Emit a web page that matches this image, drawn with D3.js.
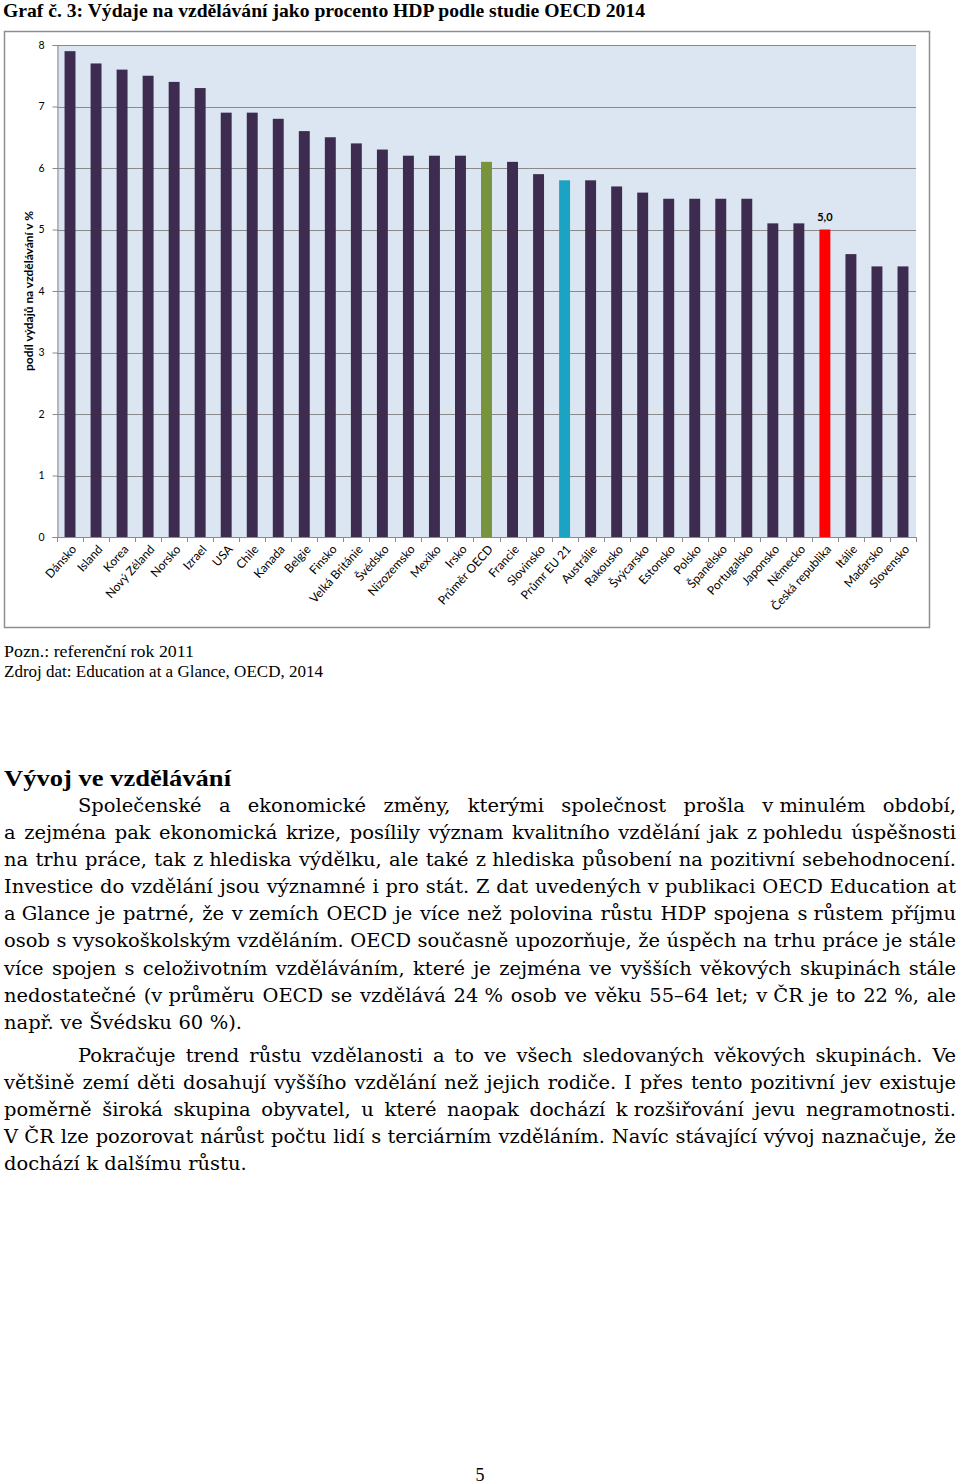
<!DOCTYPE html>
<html><head><meta charset="utf-8">
<script src="https://cdn.jsdelivr.net/npm/d3@7"></script>
<style>body{margin:0;background:#fff}svg{display:block}</style>
</head><body><svg id="c" width="960" height="1484"></svg>
<script>
// ---------- data ----------
const categories = ["Dánsko","Island","Korea","Nový Zéland","Norsko","Izrael","USA","Chile","Kanada","Belgie","Finsko","Velká Británie","Švédsko","Nizozemsko","Mexiko","Irsko","Průměr OECD","Francie","Slovinsko","Průmr EU 21","Austrálie","Rakousko","Švýcarsko","Estonsko","Polsko","Španělsko","Portugalsko","Japonsko","Německo","Česká republika","Itálie","Maďarsko","Slovensko"];
const values = [7.9,7.7,7.6,7.5,7.4,7.3,6.9,6.9,6.8,6.6,6.5,6.4,6.3,6.2,6.2,6.2,6.1,6.1,5.9,5.8,5.8,5.7,5.6,5.5,5.5,5.5,5.5,5.1,5.1,5.0,4.6,4.4,4.4];
const yTicks = [0,1,2,3,4,5,6,7,8];
const labelledCategories = ["Česká republika"];
const titleText = "Graf č. 3: Výdaje na vzdělávání jako procento HDP podle studie OECD 2014";
const yAxisTitle = "podíl výdajů na vzdělávání v %";
const noteLines = ["Pozn.: referenční rok 2011","Zdroj dat: Education at a Glance, OECD, 2014"];
const heading = "Vývoj ve vzdělávání";
const para1 = [
 "Společenské a ekonomické změny, kterými společnost prošla v\u00a0minulém období,",
 "a zejména pak ekonomická krize, posílily význam kvalitního vzdělání jak z\u00a0pohledu úspěšnosti",
 "na trhu práce, tak z\u00a0hlediska výdělku, ale také z\u00a0hlediska působení na pozitivní sebehodnocení.",
 "Investice do vzdělání jsou významné i pro stát. Z dat uvedených v\u00a0publikaci OECD Education at",
 "a\u00a0Glance je patrné, že v\u00a0zemích OECD je více než polovina růstu HDP spojena s\u00a0růstem příjmu",
 "osob s\u00a0vysokoškolským vzděláním. OECD současně upozorňuje, že úspěch na trhu práce je stále",
 "více spojen s celoživotním vzděláváním, které je zejména ve vyšších věkových skupinách stále",
 "nedostatečné (v\u00a0průměru OECD se vzdělává 24\u00a0% osob ve věku 55–64 let; v\u00a0ČR je to 22\u00a0%, ale",
 "např. ve Švédsku 60 %)."
];
const para2 = [
 "Pokračuje trend růstu vzdělanosti a to ve všech sledovaných věkových skupinách. Ve",
 "většině zemí děti dosahují vyššího vzdělání než jejich rodiče. I přes tento pozitivní jev existuje",
 "poměrně široká skupina obyvatel, u které naopak dochází k\u00a0rozšiřování jevu negramotnosti.",
 "V\u00a0ČR lze pozorovat nárůst počtu lidí s\u00a0terciárním vzděláním. Navíc stávající vývoj naznačuje, že",
 "dochází k\u00a0dalšímu růstu."
];
const pageNumber = "5";

// ---------- styles ----------
const colorFor = c => c === "Průměr OECD" ? "#77933c" : c === "Průmr EU 21" ? "#1ca2c2" : c === "Česká republika" ? "#ff0000" : "#3e2c50";
const serif = "'Liberation Serif', 'DejaVu Serif', serif";
const bodyFont = "'DejaVu Serif Condensed', 'DejaVu Serif', serif";
const sans = "Lato, 'Open Sans', sans-serif";

const svg = d3.select("#c");

// title
svg.append("text").attr("x",3).attr("y",17)
  .style("font-family",serif).style("font-weight","bold").style("font-size","19px").text(titleText)
  .attr("textLength",642).attr("lengthAdjust","spacingAndGlyphs");

// chart frame
svg.append("rect").attr("x",4.5).attr("y",31.5).attr("width",925).attr("height",596)
  .attr("fill","#fff").attr("stroke","#8e8e8e").attr("stroke-width",1.5);

const x = d3.scaleBand().domain(categories).range([57,916]).paddingInner(0.58).paddingOuter(0.29);
const y = d3.scaleLinear().domain([0,8]).range([537,45]);

// plot background
svg.append("rect").attr("x",57).attr("y",y(8)).attr("width",916-57).attr("height",y(0)-y(8)).attr("fill","#dce6f2");

// gridlines
svg.append("g").selectAll("line").data(yTicks.filter(d=>d>0)).join("line")
  .attr("x1",57).attr("x2",916).attr("y1",d=>Math.round(y(d))+0.5).attr("y2",d=>Math.round(y(d))+0.5)
  .attr("stroke","#8a8a8a").attr("stroke-width",1);

// bars
svg.append("g").selectAll("rect").data(categories).join("rect")
  .attr("x",d=>x(d)).attr("width",x.bandwidth())
  .attr("y",(d,i)=>y(values[i])).attr("height",(d,i)=>y(0)-y(values[i]))
  .attr("fill",d=>colorFor(d));

// y axis
const yAxis = svg.append("g").attr("transform","translate(57.5,0)")
  .call(d3.axisLeft(y).tickValues(yTicks).tickSize(5).tickPadding(8).tickFormat(d3.format("d")));
yAxis.select(".domain").attr("stroke","#8a8a8a");
yAxis.selectAll(".tick line").attr("stroke","#8a8a8a");
yAxis.selectAll("text").style("font-family",sans).style("font-size","10.5px").attr("fill","#000");

// x axis
svg.append("line").attr("x1",57).attr("x2",916).attr("y1",537.5).attr("y2",537.5).attr("stroke","#8a8a8a");
const bounds = d3.range(categories.length+1).map(i => 57 + i*x.step());
svg.append("g").selectAll("line").data(bounds).join("line")
  .attr("x1",d=>Math.round(d)+0.5).attr("x2",d=>Math.round(d)+0.5).attr("y1",537).attr("y2",542)
  .attr("stroke","#8a8a8a");
svg.append("g").selectAll("text").data(categories).join("text")
  .attr("transform",d=>`translate(${x(d)+x.bandwidth()/2+4},${547}) rotate(-48)`)
  .attr("text-anchor","end").attr("dy","0.35em")
  .style("font-family",sans).style("font-size","12px").text(d=>d);

// y axis title
svg.append("text").attr("transform","translate(33,291) rotate(-90)").attr("text-anchor","middle")
  .style("font-family",sans).style("font-weight","bold").style("font-size","12px").text(yAxisTitle)
  .attr("textLength",160).attr("lengthAdjust","spacingAndGlyphs");

// data label
svg.append("g").selectAll("text").data(labelledCategories).join("text")
  .attr("x",d=>x(d)+x.bandwidth()/2).attr("y",d=>y(values[categories.indexOf(d)])-9)
  .attr("text-anchor","middle").style("font-family",sans).style("font-weight","bold").style("font-size","11px")
  .text(d=>d3.format(".1f")(values[categories.indexOf(d)]).replace(".",","));

// notes
const noteWidths = [190, 319];
noteLines.forEach((t,i)=>svg.append("text").attr("x",4).attr("y",657+i*20)
  .style("font-family",serif).style("font-size","16px").text(t)
  .attr("textLength",noteWidths[i]).attr("lengthAdjust","spacingAndGlyphs"));

// heading
svg.append("text").attr("x",4).attr("y",786).style("font-family",serif).style("font-weight","bold")
  .style("font-size","24px").text(heading).attr("textLength",227).attr("lengthAdjust","spacingAndGlyphs");

// justified body text
const bodySize = 19;
const sp = bodySize*0.3;
const L = 4, R = 956, indent = 78;
function measureLine(text){
  const t = svg.append("text").style("font-family",bodyFont).style("font-size",bodySize+"px");
  const ws = text.split(" ").map(w => { t.text(w); return t.node().getComputedTextLength(); });
  t.remove();
  return ws;
}
const allLines = [];
[para1, para2].forEach(p => p.forEach((t,i)=>allLines.push({t, first:i===0, last:i===p.length-1})));
allLines.forEach(l => { l.widths = measureLine(l.t); l.x0 = l.first ? indent : L; });
// common horizontal scale so the tightest justified line fits with normal spacing
const k = d3.min(allLines.filter(l=>!l.last), l => (R - l.x0)/(d3.sum(l.widths) + sp*(l.widths.length-1)));
function drawLine(l, yy){
  const g = svg.append("g").attr("transform",`scale(${k},1)`);
  const words = l.t.split(" ");
  const total = d3.sum(l.widths);
  const gap = l.last ? sp : ((R - l.x0)/k - total)/(words.length-1);
  let xx = l.x0/k;
  words.forEach((w,i)=>{
    g.append("text").attr("x",xx).attr("y",yy).style("font-family",bodyFont).style("font-size",bodySize+"px").text(w);
    xx += l.widths[i] + gap;
  });
}
allLines.slice(0,para1.length).forEach((l,i)=>drawLine(l, 812 + i*27.1));
allLines.slice(para1.length).forEach((l,i)=>drawLine(l, 1062 + i*27.1));

svg.append("text").attr("x",480).attr("y",1481).attr("text-anchor","middle")
  .style("font-family",serif).style("font-size","18px").text(pageNumber);
</script></body></html>
